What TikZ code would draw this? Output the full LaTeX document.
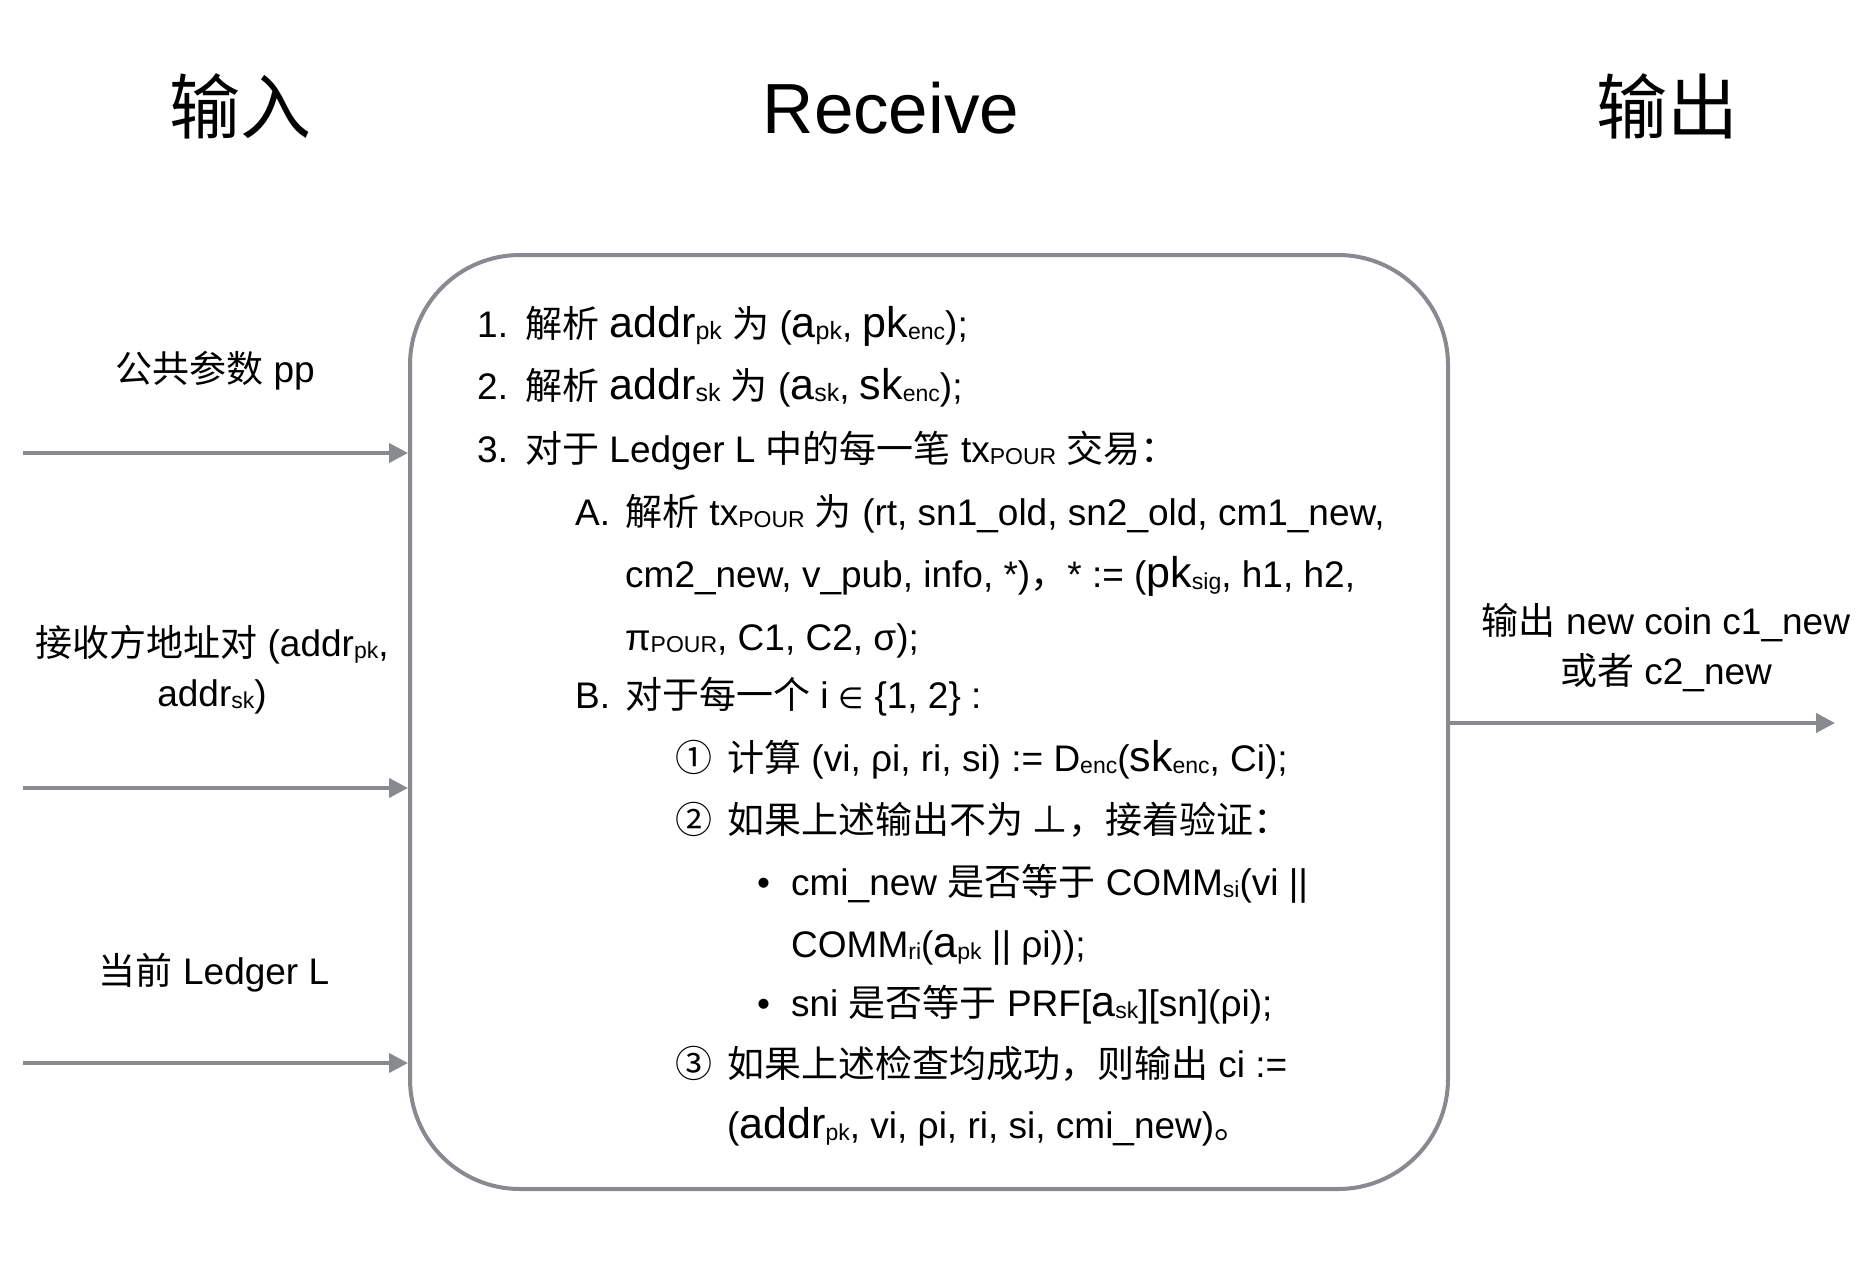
\documentclass[tikz,border=0pt]{standalone}
\usepackage{fontspec}
\setmainfont{Liberation Sans}
\newfontfamily\cjk{Noto Sans CJK SC}
\newfontfamily\dvs{DejaVu Sans}
\usetikzlibrary{arrows.meta}
\definecolor{edgegray}{RGB}{136,138,143}
\newcommand\zh[1]{{\cjk #1}}
\newcommand\sbs[1]{\raisebox{-2pt}{\fontsize{23}{23}\selectfont #1}}
\newcommand\sbsl[1]{\raisebox{-2pt}{\fontsize{25}{25}\selectfont #1}}
\newcommand\lgtxt[1]{{\fontsize{43}{43}\selectfont #1}}
\newcommand\elem{{\dvs\fontsize{29}{29}\selectfont ∈}}
\begin{document}
\begin{tikzpicture}[x=1pt,y=-1pt,
  titletext/.style={font=\fontsize{71}{71}\selectfont, anchor=base, inner sep=0pt},
  lbl/.style={font=\fontsize{37}{50}\selectfont, anchor=base, inner sep=0pt, align=center},
  ln/.style={font=\fontsize{37}{37}\selectfont, anchor=base west, inner sep=0pt},
  conn/.style={draw=edgegray, line width=4pt, -{Triangle[length=19pt,width=19pt]}},
  procbox/.style={draw=edgegray, line width=4pt, rounded corners=110pt, inner sep=0pt}]
\useasboundingbox (0,0) rectangle (1866,1280);
\fill[white] (0,0) rectangle (1866,1280);

% titles
\node[titletext] (tin) at (240,133) {\zh{输入}};
\node[titletext] (trecv) at (891,133) {Receive};
\node[titletext] (tout) at (1667,133) {\zh{输出}};

% main box
\node[procbox, minimum width=1038pt, minimum height=934pt] (recv) at (929,722) {};

% inputs
\node[lbl] (pp) at (215,382) {\zh{公共参数} pp};
\node[lbl, anchor=center] (addr) at (212,670) {\zh{接收方地址对} (addr\sbs{pk},\\addr\sbs{sk})};
\node[lbl] (ledger) at (214,984) {\zh{当前} Ledger L};
\coordinate (in1) at (23,453);
\coordinate (in2) at (23,788);
\coordinate (in3) at (23,1063);
\draw[conn] (in1) -- (recv.west |- in1);
\draw[conn] (in2) -- (recv.west |- in2);
\draw[conn] (in3) -- (recv.west |- in3);

% output
\node[lbl, anchor=center] (outl) at (1666,648) {\zh{输出} new coin c1\_new\\\zh{或者} c2\_new};
\coordinate (out) at (1835,723);
\draw[conn] (recv.east |- out) -- (out);

% body text
\node[ln] (t1) at (477,337) {\makebox[48pt][l]{1.}\zh{解析} \lgtxt{addr}\sbsl{pk} \zh{为} (\lgtxt{a}\sbsl{pk}, \lgtxt{pk}\sbs{enc});};
\node[ln] (t2) at (477,399) {\makebox[48pt][l]{2.}\zh{解析} \lgtxt{addr}\sbsl{sk} \zh{为} (\lgtxt{a}\sbsl{sk}, \lgtxt{sk}\sbs{enc});};
\node[ln] (t3) at (477,462) {\makebox[48pt][l]{3.}\zh{对于} Ledger L \zh{中的每一笔} tx\sbs{POUR} \zh{交易：}};
\node[ln] (tA) at (575,525) {\makebox[50pt][l]{A.}\zh{解析} tx\sbs{POUR} \zh{为} (rt, sn1\_old, sn2\_old, cm1\_new,};
\node[ln] (tA2) at (625,587) {cm2\_new, v\_pub, info, *)\zh{，}* := (\lgtxt{pk}\sbs{sig}, h1, h2,};
\node[ln] (tA3) at (625,650) {π\sbs{POUR}, C1, C2, σ);};
\node[ln] (tB) at (575,708) {\makebox[50pt][l]{B.}\zh{对于每一个} i \elem{} \{1, 2\} :};
\node[ln] (tc1) at (675,771) {\makebox[52pt][l]{\zh{①}}\zh{计算} (vi, ρi, ri, si) := D\sbs{enc}(\lgtxt{sk}\sbs{enc}, Ci);};
\node[ln] (tc2) at (675,833) {\makebox[52pt][l]{\zh{②}}\zh{如果上述输出不为 ⊥，接着验证：}};
\node[ln] (tb1) at (757,895) {\makebox[34pt][l]{•}cmi\_new \zh{是否等于} COMM\sbs{si}(vi ||};
\node[ln] (tb1b) at (791,957) {COMM\sbs{ri}(\lgtxt{a}\sbs{pk} || ρi));};
\node[ln] (tb2) at (757,1016) {\makebox[34pt][l]{•}sni \zh{是否等于} PRF[\lgtxt{a}\sbs{sk}][sn](ρi);};
\node[ln] (tc3) at (675,1077) {\makebox[52pt][l]{\zh{③}}\zh{如果上述检查均成功，则输出} ci :=};
\node[ln] (tc3b) at (727,1138) {(\lgtxt{addr}\sbs{pk}, vi, ρi, ri, si, cmi\_new)\zh{。}};
\end{tikzpicture}
\end{document}
